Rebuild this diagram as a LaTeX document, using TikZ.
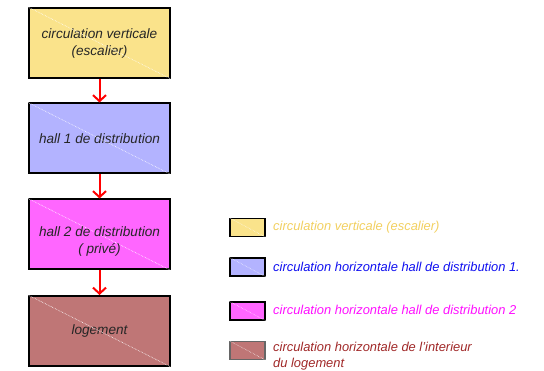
\documentclass[tikz,border=0pt]{standalone}
\usepackage{fontspec}
\setmainfont{Liberation Sans}
\usetikzlibrary{arrows.meta}
\definecolor{cYellow}{HTML}{FAE38B}
\definecolor{cBlue}{HTML}{B3B3FF}
\definecolor{cMagenta}{HTML}{FF66FF}
\definecolor{cBrown}{HTML}{BF7676}
\definecolor{tYellow}{HTML}{F2D060}
\definecolor{tBlue}{HTML}{1010F0}
\definecolor{tMagenta}{HTML}{FF10FF}
\definecolor{tBrown}{HTML}{A02828}
\tikzset{
  zone/.style={draw=black, line width=2pt, minimum width=141pt, minimum height=70pt,
    inner sep=0pt, align=center, font=\itshape\fontsize{13.6}{17}\selectfont, text=black!85},
  zonetext/.style={inner sep=0pt, align=center, font=\itshape\fontsize{13.6}{17}\selectfont, text=black!85},
  swatch/.style={draw=black, line width=1.5pt, minimum width=35pt, minimum height=18pt, inner sep=0pt},
  hatch/.style={white, densely dotted, line width=0.6pt},
  flow/.style={red, line width=2pt, -{Straight Barb[length=6pt,width=13pt,line width=2pt]}},
  legtext/.style={anchor=west, align=left, inner sep=0pt, font=\itshape\fontsize{12.9}{16}\selectfont}
}
\begin{document}
\begin{tikzpicture}[x=1pt,y=-1pt]
\useasboundingbox (0,0) rectangle (544,371);

% flow of circulation zones
\node[zone, fill=cYellow]  (v)  at (99.5,43)  {circulation verticale\\(escalier)};
\node[zone, fill=cBlue]    (h1) at (99.5,138.5) {hall 1 de distribution};
\node[zone, fill=cMagenta] (h2) at (99.5,234.5) {};
\node[zone, fill=cBrown]   (lg) at (99.5,331)  {logement};

\foreach \n in {v,h1,h2,lg}{
  \draw[hatch] (\n.north west) -- (\n.south east);
}
\node[zonetext] (h2t) at ([yshift=-7pt]h2.center) {hall 2 de distribution\\( privé)};

\draw[flow] (v.south)  -- (h1.north);
\draw[flow] (h1.south) -- (h2.north);
\draw[flow] (h2.south) -- (lg.north);

% legend
\node[swatch, fill=cYellow]  (s1) at (247.5,227.5) {};
\node[swatch, fill=cBlue]    (s2) at (247.5,267) {};
\node[swatch, fill=cMagenta] (s3) at (247.5,311) {};
\node[swatch, fill=cBrown, draw=black!60] (s4) at (247.5,350.5) {};
\foreach \n in {s1,s2,s3,s4}{
  \draw[hatch, line width=0.5pt] (\n.north west) -- (\n.south east);
}

\node[legtext, text=tYellow]  (l1) at (273,227) {circulation verticale (escalier)};
\node[legtext, text=tBlue]    (l2) at (273,266.5) {circulation horizontale hall de distribution 1.};
\node[legtext, text=tMagenta] (l3) at (273,310) {circulation horizontale hall de distribution 2};
\node[legtext, text=tBrown, anchor=north west] (l4) at (273,342) {circulation horizontale de l'interieur\\du logement};
\end{tikzpicture}
\end{document}
